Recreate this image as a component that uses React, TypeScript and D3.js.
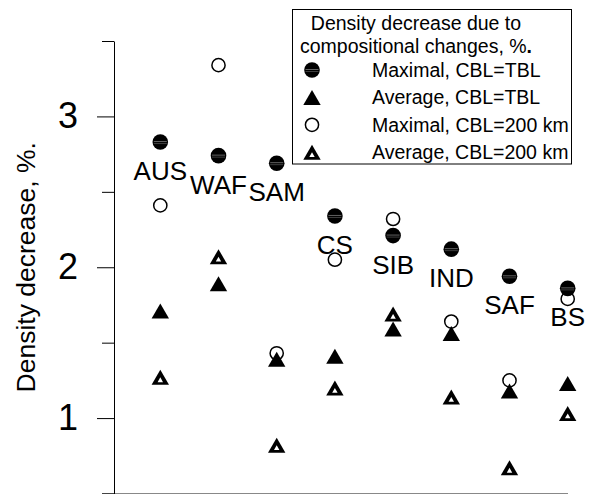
import React, { useEffect, useRef } from 'react';
import * as d3 from 'd3';

const categories = ['AUS', 'WAF', 'SAM', 'CS', 'SIB', 'IND', 'SAF', 'BS'];
const maxTBL = [2.83, 2.74, 2.69, 2.34, 2.21, 2.12, 1.94, 1.86];
const avgTBL = [1.71, 1.89, 1.39, 1.41, 1.59, 1.56, 1.18, 1.23];
const max200 = [2.41, 3.34, 1.43, 2.05, 2.32, 1.64, 1.25, 1.79];
const avg200 = [1.27, 2.07, 0.82, 1.2, 1.69, 1.14, 0.67, 1.03];
const majorTicks = [1, 2, 3];
const minorTicks = [0.5, 1.5, 2.5, 3.5];
const legendTitle = ['Density decrease due to', 'compositional changes, %'];
const legendLabels = ['Maximal, CBL=TBL', 'Average, CBL=TBL', 'Maximal, CBL=200 km', 'Average, CBL=200 km'];
const yTitle = 'Density decrease, %.';

const W = 594;
const H = 494;
const FONT = '"Liberation Sans", Arial, Helvetica, sans-serif';

const triOuter = 'M0,-7.5L8.7,7.5L-8.7,7.5Z';
const triInner = 'M0,0L2.7,4.8L-2.7,4.8Z';

// draws one of the four marker kinds at (0,0) of group g
const drawMarker = (g, kind) => {
  if (kind === 0) {
    g.append('circle').attr('r', 7.8).attr('fill', '#000');
    g.append('line').attr('x1', -6.5).attr('x2', 6.5).attr('y1', -0.5).attr('y2', -0.5)
      .attr('stroke', '#fff').attr('stroke-opacity', 0.55).attr('stroke-width', 0.7);
    g.append('line').attr('x1', -6.5).attr('x2', 6.5).attr('y1', 1.5).attr('y2', 1.5)
      .attr('stroke', '#fff').attr('stroke-opacity', 0.35).attr('stroke-width', 0.7);
  } else if (kind === 1) {
    g.append('path').attr('d', triOuter).attr('fill', '#000');
  } else if (kind === 2) {
    g.append('circle').attr('r', 6.6).attr('fill', '#fff').attr('stroke', '#000').attr('stroke-width', 1.5);
  } else {
    g.append('path').attr('d', triOuter).attr('fill', '#000');
    g.append('path').attr('d', triInner).attr('fill', '#fff');
  }
};

const App = () => {
  const svgRef = useRef(null);

  useEffect(() => {
    const svg = d3.select(svgRef.current);
    svg.selectAll('*').remove();

    const x = d3.scalePoint().domain(categories).range([160.3, 567.7]);
    const y = d3.scaleLinear().domain([0.5, 3.5]).range([493.5, 41]);
    const axisX = 114;

    // x baseline
    svg.append('line')
      .attr('x1', 102).attr('x2', 568)
      .attr('y1', y(0.5)).attr('y2', y(0.5))
      .attr('stroke', '#888').attr('stroke-width', 1);

    // y axis: minor then major ticks
    svg.append('g')
      .attr('transform', `translate(${axisX},0)`)
      .call(d3.axisLeft(y).tickValues(minorTicks).tickSize(12).tickSizeOuter(0).tickFormat(() => ''))
      .call(g => g.select('.domain').attr('stroke', '#000'));

    const major = svg.append('g')
      .attr('transform', `translate(${axisX},0)`)
      .call(d3.axisLeft(y).tickValues(majorTicks).tickSize(17).tickSizeOuter(0).tickPadding(19).tickFormat(d3.format('d')));
    major.select('.domain').remove();
    major.selectAll('text')
      .attr('font-family', FONT)
      .attr('font-size', 36)
      .attr('fill', '#000');

    // y title
    svg.append('text')
      .attr('transform', `translate(35,${(y(0.5) + y(3.5)) / 2}) rotate(-90)`)
      .attr('text-anchor', 'middle')
      .attr('font-family', FONT)
      .attr('font-size', 26.5)
      .text(yTitle);

    // region labels sit under the maximal CBL=TBL point
    svg.append('g').selectAll('text')
      .data(categories)
      .join('text')
      .attr('x', d => x(d))
      .attr('y', (d, i) => y(maxTBL[i]) + 38)
      .attr('text-anchor', 'middle')
      .attr('font-family', FONT)
      .attr('font-size', 26)
      .text(d => d);

    const series = [
      { vals: max200, kind: 2 },
      { vals: maxTBL, kind: 0 },
      { vals: avgTBL, kind: 1 },
      { vals: avg200, kind: 3 },
    ];
    series.forEach(s => {
      s.vals.forEach((v, i) => {
        const g = svg.append('g').attr('transform', `translate(${x(categories[i])},${y(v)})`);
        drawMarker(g, s.kind);
      });
    });

    // legend
    const lg = svg.append('g');
    lg.append('rect')
      .attr('x', 292.5).attr('y', 9.5).attr('width', 279).attr('height', 154.5)
      .attr('fill', '#fff').attr('stroke', '#000').attr('stroke-width', 1);
    lg.append('text')
      .attr('x', 416).attr('y', 30)
      .attr('text-anchor', 'middle')
      .attr('font-family', FONT).attr('font-size', 19.5)
      .text(legendTitle[0]);
    const t2 = lg.append('text')
      .attr('x', 416).attr('y', 53)
      .attr('text-anchor', 'middle')
      .attr('font-family', FONT).attr('font-size', 19.5);
    t2.append('tspan').text(legendTitle[1]);
    t2.append('tspan').attr('font-weight', 'bold').text('.');

    legendLabels.forEach((label, i) => {
      const ry = 70 + i * 27.4;
      const mg = lg.append('g').attr('transform', `translate(312,${ry})`);
      drawMarker(mg, i);
      lg.append('text')
        .attr('x', 372).attr('y', ry + 7)
        .attr('font-family', FONT).attr('font-size', 19.5)
        .text(label);
    });
  }, []);

  return (
    <svg
      ref={svgRef}
      width={W}
      height={H}
      style={{ position: 'absolute', left: 0, top: 0, background: '#fff' }}
    />
  );
};

export default App;
